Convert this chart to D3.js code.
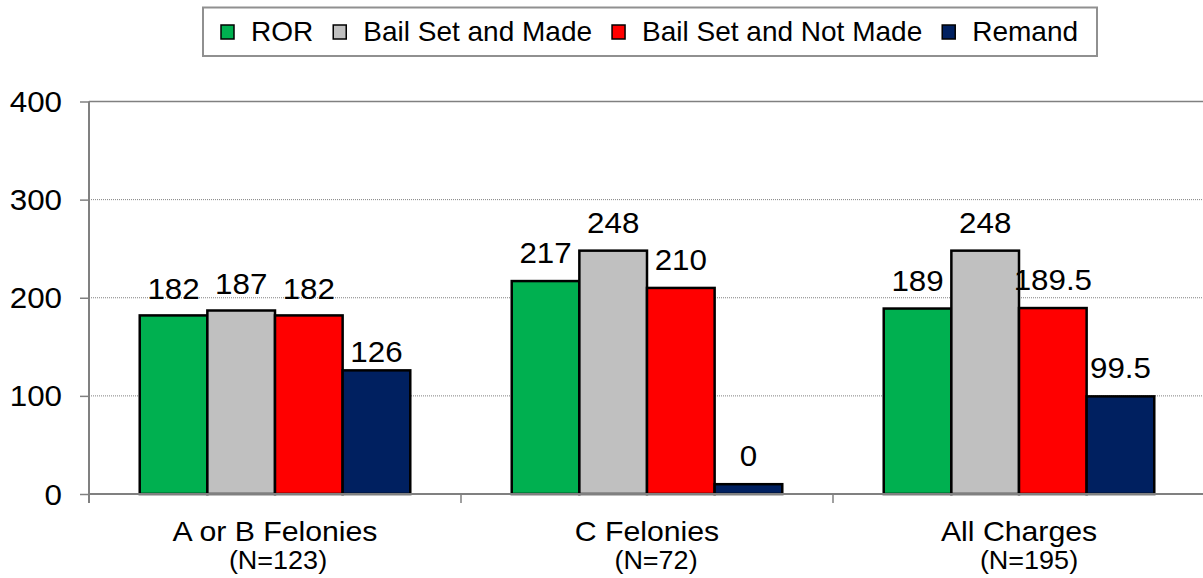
<!DOCTYPE html>
<html>
<head>
<meta charset="utf-8">
<script src="https://cdn.jsdelivr.net/npm/d3@7"></script>
<style>
  html, body { margin: 0; padding: 0; background: #fff; }
  svg { display: block; font-family: "Liberation Sans", Arial, sans-serif; }
</style>
</head>
<body>
<svg id="chart" width="1203" height="578"></svg>
<script>
// Release outcomes by charge group
const categories = ["A or B Felonies", "C Felonies", "All Charges"];
const sampleSizes = ["(N=123)", "(N=72)", "(N=195)"];
const seriesNames = ["ROR", "Bail Set and Made", "Bail Set and Not Made", "Remand"];
const rorValues = [182, 217, 189];
const bailMadeValues = [187, 248, 248];
const bailNotMadeValues = [182, 210, 189.5];
const remandValues = [126, 0, 99.5];
const yTicks = [0, 100, 200, 300, 400];

const seriesValues = [rorValues, bailMadeValues, bailNotMadeValues, remandValues];
const colors = ["#00B050", "#C0C0C0", "#FF0000", "#002060"];

// Smallest height a bar is drawn with, so a zero still shows as a sliver
const minDrawn = 10;
// Per-label extra drop (px) for labels sitting lower above their bars
const labelDrop = [[2, 1, 2, 10], [0, 0, 0, 0], [0, 0, 0, 0]];
// Sideways nudge (px) of the sample-size captions
const sampleShift = [3, 9, 10];
const stretch = 1.08;

const svg = d3.select("#chart");
const plot = { left: 89, right: 1205, top: 101.5, bottom: 494 };

const x0 = d3.scaleBand().domain(categories).range([plot.left, plot.right]).paddingInner(0).paddingOuter(0);
// Excel-like gap width of 150%: group occupies 4 / (4 + 1.5) of the band
const groupWidth = x0.bandwidth() * 4 / 5.5;
const x1 = d3.scaleBand().domain(seriesNames).range([0, groupWidth]).padding(0);
const y = d3.scaleLinear().domain([0, 400]).range([plot.bottom, plot.top]);

// Gridlines
svg.append("g").selectAll("line")
  .data(yTicks.filter(t => t > 0 && t < 400))
  .join("line")
  .attr("x1", plot.left).attr("x2", plot.right)
  .attr("y1", d => y(d)).attr("y2", d => y(d))
  .attr("stroke", "#808080").attr("stroke-width", 1)
  .attr("stroke-dasharray", "1,1");

// Plot area top border
svg.append("line")
  .attr("x1", plot.left).attr("x2", plot.right)
  .attr("y1", y(400)).attr("y2", y(400))
  .attr("stroke", "#808080").attr("stroke-width", 1.5);

// Bars
const groups = svg.append("g").selectAll("g")
  .data(categories)
  .join("g")
  .attr("transform", (c) => `translate(${x0(c) + (x0.bandwidth() - groupWidth) / 2},0)`);

groups.each(function (c, ci) {
  const g = d3.select(this);
  seriesNames.forEach((s, si) => {
    const v = seriesValues[si][ci];
    const top = y(Math.max(v, minDrawn));
    g.append("rect")
      .attr("x", x1(s))
      .attr("y", top)
      .attr("width", x1.bandwidth())
      .attr("height", y(0) - top)
      .attr("fill", colors[si])
      .attr("stroke", "#000").attr("stroke-width", 2.5);
    g.append("text")
      .attr("transform", `translate(${x1(s) + x1.bandwidth() / 2},${top - 18 + labelDrop[ci][si]}) scale(${stretch},1)`)
      .attr("text-anchor", "middle")
      .attr("font-size", 29)
      .attr("fill", "#000")
      .text(String(v));
  });
});

// Y axis
const yAxis = d3.axisLeft(y).tickValues(yTicks).tickSize(9).tickFormat("");
const yg = svg.append("g").attr("transform", `translate(${plot.left},0)`).call(yAxis);
yg.select(".domain").attr("stroke", "#808080").attr("stroke-width", 2)
  .attr("d", `M0,${y(400)}V${plot.bottom + 9}`);
yg.selectAll(".tick line").attr("stroke", "#808080").attr("stroke-width", 1.5);

svg.append("g").selectAll("text")
  .data(yTicks)
  .join("text")
  .attr("transform", d => `translate(62,${y(d) + 10.5}) scale(${stretch},1)`)
  .attr("text-anchor", "end")
  .attr("font-size", 29)
  .attr("fill", "#000")
  .text(d => d);

// X axis
svg.append("line")
  .attr("x1", plot.left).attr("x2", plot.right)
  .attr("y1", plot.bottom).attr("y2", plot.bottom)
  .attr("stroke", "#808080").attr("stroke-width", 2);
svg.append("g").selectAll("line")
  .data(categories.slice(1))
  .join("line")
  .attr("x1", c => x0(c)).attr("x2", c => x0(c))
  .attr("y1", plot.bottom).attr("y2", plot.bottom + 9)
  .attr("stroke", "#808080").attr("stroke-width", 1.5);

svg.append("g").selectAll("text")
  .data(categories)
  .join("text")
  .attr("transform", c => `translate(${x0(c) + x0.bandwidth() / 2},541) scale(${stretch},1)`)
  .attr("text-anchor", "middle")
  .attr("font-size", 28)
  .attr("fill", "#000")
  .text(c => c);

svg.append("g").selectAll("text")
  .data(sampleSizes)
  .join("text")
  .attr("transform", (n, i) => `translate(${x0(categories[i]) + x0.bandwidth() / 2 + sampleShift[i]},569) scale(${stretch},1)`)
  .attr("text-anchor", "middle")
  .attr("font-size", 25)
  .attr("fill", "#000")
  .text(n => n);

// Legend
const legend = svg.append("g");
legend.append("rect")
  .attr("x", 203).attr("y", 7.5).attr("width", 894).attr("height", 48.5)
  .attr("fill", "#fff").attr("stroke", "#909090").attr("stroke-width", 2);
let lx = 221;
seriesNames.forEach((s, si) => {
  legend.append("rect")
    .attr("x", lx).attr("y", 25).attr("width", 13).attr("height", 14)
    .attr("fill", colors[si]).attr("stroke", "#000").attr("stroke-width", 1.5);
  const t = legend.append("text")
    .attr("x", lx + 30).attr("y", 41)
    .attr("font-size", 28).attr("fill", "#000")
    .text(s);
  lx += 30 + t.node().getComputedTextLength() + 20;
});
</script>
</body>
</html>
